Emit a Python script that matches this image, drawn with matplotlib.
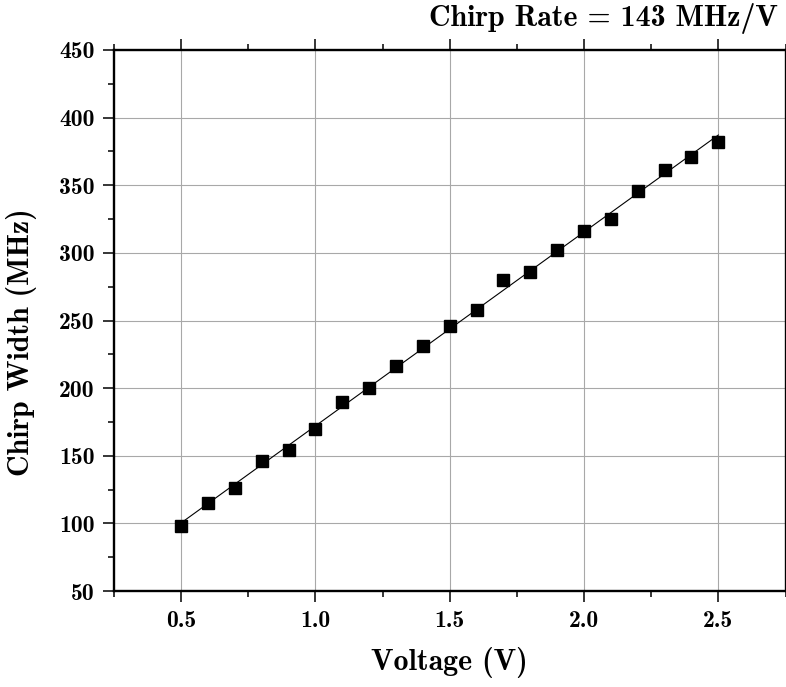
import numpy as np
import matplotlib
matplotlib.use("Agg")
import matplotlib.pyplot as plt
from matplotlib.ticker import MultipleLocator

plt.rcParams["font.family"] = ["cmb10", "DejaVu Serif"]
plt.rcParams["axes.unicode_minus"] = False

# Measured chirp width versus tuning voltage
voltage = [0.5, 0.6, 0.7, 0.8, 0.9, 1.0, 1.1, 1.2, 1.3, 1.4, 1.5,
           1.6, 1.7, 1.8, 1.9, 2.0, 2.1, 2.2, 2.3, 2.4, 2.5]
chirp_width = [98, 115, 126, 146, 154, 170, 190, 200, 216, 231, 246,
               258, 280, 286, 302, 316, 325, 346, 361, 371, 382]

x_ticks = [0.5, 1.0, 1.5, 2.0, 2.5]
y_ticks = [50, 100, 150, 200, 250, 300, 350, 400, 450]

W, H = 786, 687
fig = plt.figure(figsize=(W / 100, H / 100), dpi=100)
ax = fig.add_axes([114 / W, 1 - 591 / H, (785.5 - 114) / W, (591 - 50) / H])

# Linear fit of the measurements
x = np.array(voltage)
y = np.array(chirp_width)
slope, intercept = np.polyfit(x, y, 1)
xf = np.array([x.min(), x.max()])
ax.plot(xf, slope * xf + intercept, color="black", lw=0.8, zorder=3)
ax.plot(x, y, linestyle="none", marker="s", ms=8, color="black", zorder=4)

ax.set_xlim(0.25, 2.75)
ax.set_ylim(50, 450)
ax.set_xticks(x_ticks)
ax.set_xticklabels([f"{v:.1f}" for v in x_ticks])
ax.set_yticks(y_ticks)
ax.xaxis.set_minor_locator(MultipleLocator(0.25))
ax.yaxis.set_minor_locator(MultipleLocator(25))

ax.grid(True, which="major", color="#a8a8a8", lw=0.8, zorder=0)
ax.set_axisbelow(True)

for s in ax.spines.values():
    s.set_linewidth(1.7)
ax.tick_params(which="both", direction="out", top=True, right=True,
               width=1.1, labelsize=17, pad=6)
ax.tick_params(which="major", length=8)
ax.tick_params(which="minor", length=4.3)

fig.text(449 / W, 1 - 663 / H, "Voltage (V)", ha="center", va="center", fontsize=21.5)
fig.text(22 / W, 1 - 342 / H, "Chirp Width (MHz)", ha="center", va="center",
         rotation=90, fontsize=21.5)
fig.text(778 / W, 1 - 18 / H, "Chirp Rate = 143 MHz/V", ha="right", va="center",
         fontsize=21.5)

fig.savefig("out.png", dpi=100)
